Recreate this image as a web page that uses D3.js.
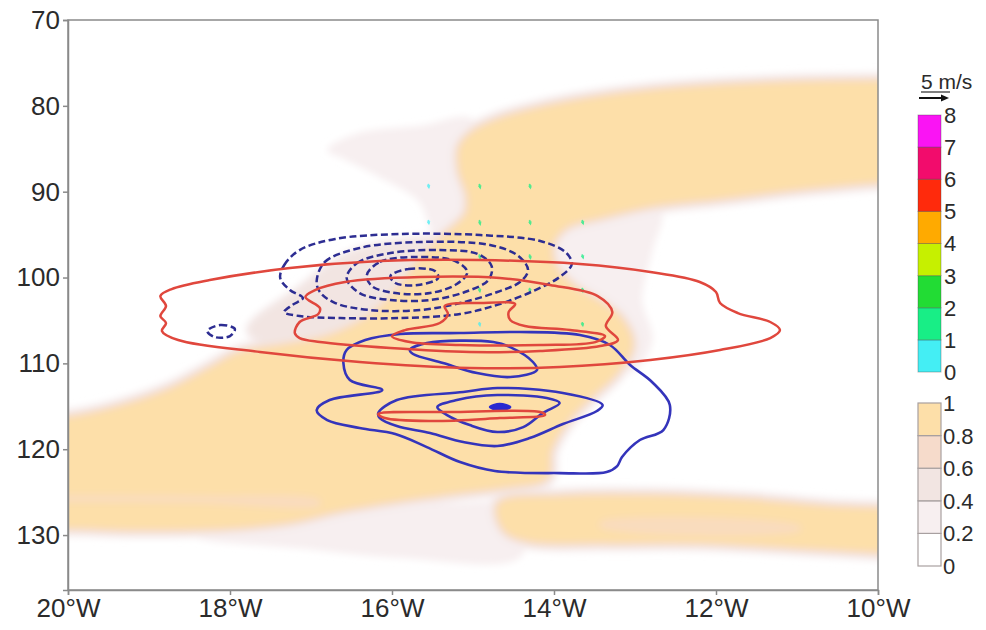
<!DOCTYPE html>
<html>
<head>
<meta charset="utf-8">
<script src="https://cdn.jsdelivr.net/npm/d3@7"></script>
<style>
  html, body { margin: 0; padding: 0; background: #fff; }
  svg { display: block; font-family: "Liberation Sans", Arial, Helvetica, sans-serif; }
</style>
</head>
<body>
<svg id="chart" width="986" height="630"></svg>
<script>
// ---------- axes ----------
const lonDomain = [-20, -10];
const levelDomain = [70, 136.4];
const lonTicks = [-20, -18, -16, -14, -12, -10];
const levelTicks = [70, 80, 90, 100, 110, 120, 130];

// ---------- colour classes ----------
const speedBreaks = [0, 1, 2, 3, 4, 5, 6, 7, 8];
const speedColors = ["#44eef4", "#18ee86", "#22dc34", "#c6f000", "#ffaa00", "#ff2a0c", "#f20c6c", "#fa14f4"];
const fracBreaks = [0, 0.2, 0.4, 0.6, 0.8, 1];
const fracLabels = ["0", "0.2", "0.4", "0.6", "0.8", "1"];
const fracColors = ["#ffffff", "#f7eff0", "#f2e5e2", "#f6dbcb", "#fddfa9"];

// ---------- fraction field: outlines (lon, level) and their values ----------
const bandMain = [[-9.3,77.3],[-10.0,77.4],[-10.96,77.5],[-11.95,77.9],[-12.81,78.5],[-13.56,79.4],[-14.17,80.5],[-14.67,81.8],[-14.98,83.2],[-15.14,84.91],[-15.14,87.48],[-15.04,90.39],[-15.06,92.72],[-15.35,95.40],[-15.65,98.19],[-15.90,101.46],[-16.27,104.72],[-16.77,107.05],[-17.38,108.21],[-17.88,109.03],[-18.25,110.9],[-18.74,113.3],[-19.36,115.3],[-20.0,116.6],[-20.7,116.9],[-20.7,128.9],[-20.0,128.9],[-18.99,129.1],[-18.00,128.9],[-17.26,128.2],[-16.64,126.85],[-15.90,125.69],[-15.16,124.76],[-14.54,124.06],[-14.11,123.13],[-14.07,120.10],[-13.86,116.60],[-13.56,113.69],[-13.25,111.01],[-13.06,107.86],[-13.19,104.95],[-13.43,103.20],[-13.74,101.46],[-13.99,99.13],[-14.05,96.21],[-13.86,93.88],[-13.43,92.72],[-12.81,91.4],[-11.95,90.5],[-10.96,89.4],[-10.0,88.6],[-9.3,88.4]];
const bandSouth = [[-14.67,126.5],[-13.93,125.7],[-12.81,125.6],[-11.58,126.1],[-10.59,126.9],[-10.0,127.1],[-9.3,127.2],[-9.3,132.1],[-10.0,131.8],[-10.96,131.3],[-12.20,130.7],[-13.43,130.7],[-14.30,130.5],[-14.60,129.3]];
const cloudNorth = [[-16.77,85.15],[-16.40,83.40],[-15.65,82.58],[-15.04,81.65],[-14.91,83.98],[-15.04,88.64],[-15.04,94.46],[-15.41,95.63],[-15.65,90.97],[-16.15,88.06],[-16.64,85.73]];
const lobeEast = [[-13.93,90.97],[-13.19,90.39],[-12.70,92.14],[-12.81,96.80],[-12.94,102.62],[-12.81,107.28],[-13.06,110.78],[-13.43,106.12],[-13.93,97.96]];
const coreCentral = [[-17.14,101.46],[-16.52,97.38],[-15.65,95.63],[-15.35,95.63],[-15.65,101.46],[-16.52,106.70],[-17.38,107.86],[-17.75,106.12]];
const hazeSouth = [[-18.4,130.2],[-17.75,129.2],[-16.52,127.6],[-15.28,126.5],[-14.42,127.0],[-14.42,132.4],[-15.90,132.5],[-17.14,131.4]];
const fracRings = [bandMain, bandSouth, cloudNorth, lobeEast, coreCentral, hazeSouth];
const fracValues = [0.95, 0.9, 0.35, 0.35, 0.55, 0.3];

// weaker strips inside the bands
const stripWest = [[-20.7,125.3],[-20.0,125.3],[-18.37,125.4],[-16.89,125.9],[-16.89,126.6],[-18.37,126.3],[-20.0,126.2],[-20.7,126.2]];
const stripSouth = [[-13.43,128.48],[-10.96,128.95],[-10.96,129.5],[-13.43,129.1]];
const dipRings = [stripWest, stripSouth];
const dipValues = [0.7, 0.7];

// ---------- contours (lon, level) ----------
const redOuter = [[-18.86,102.16],[-18.79,103.32],[-18.86,104.49],[-18.79,105.30],[-18.84,106.23],[-18.64,107.28],[-17.63,108.68],[-16.40,109.84],[-15.04,110.54],[-13.93,110.43],[-12.81,109.61],[-11.95,108.45],[-11.33,107.05],[-11.21,106.12],[-11.33,105.18],[-11.73,104.14],[-11.95,102.97],[-12.00,101.69],[-12.20,100.52],[-12.81,99.36],[-13.68,98.43],[-14.91,97.96],[-16.15,98.08],[-17.26,98.90],[-18.25,100.29],[-18.72,101.34]];
const redMiddle = [[-17.20,106.47],[-17.14,105.18],[-16.91,104.25],[-16.89,103.55],[-17.07,102.27],[-16.95,101.46],[-16.58,100.52],[-15.65,99.94],[-14.67,100.06],[-14.05,100.87],[-13.46,102.16],[-13.28,104.02],[-13.36,105.65],[-13.21,107.28],[-13.43,107.98],[-14.17,108.55],[-15.04,108.68],[-16.02,108.21],[-16.89,107.51],[-17.14,107.05]];
const redInner = [[-15.35,103.32],[-14.91,102.97],[-14.48,103.09],[-14.56,104.02],[-14.54,104.95],[-14.36,105.65],[-13.80,106.12],[-13.37,106.82],[-13.49,107.52],[-14.17,107.86],[-15.16,107.86],[-15.78,107.52],[-16.00,106.82],[-15.84,106.12],[-15.41,105.30],[-15.31,104.25]];
const redSliver = [[-16.17,115.90],[-15.28,115.67],[-14.17,115.67],[-14.11,116.02],[-14.67,116.37],[-15.53,116.72],[-16.09,116.37]];
const redContours = [redOuter, redMiddle, redInner, redSliver];

const blueOuter = [[-16.56,108.45],[-16.60,109.96],[-16.52,111.94],[-16.12,113.11],[-16.77,114.27],[-16.93,115.44],[-16.80,116.60],[-16.40,117.53],[-15.96,118.23],[-15.57,119.75],[-15.16,121.50],[-14.73,122.54],[-13.93,122.78],[-13.35,122.66],[-13.22,121.96],[-13.16,120.91],[-12.94,118.93],[-12.65,117.77],[-12.57,114.85],[-12.79,112.17],[-13.06,110.19],[-13.31,107.86],[-13.68,106.70],[-14.42,106.35],[-15.16,106.47],[-15.90,106.58],[-16.33,107.28]];
const blueUpper = [[-15.78,108.45],[-15.57,107.63],[-14.75,107.51],[-14.54,108.10],[-14.26,109.84],[-14.21,110.78],[-14.54,111.59],[-14.95,111.13],[-15.37,109.96],[-15.74,108.91]];
const blueLower = [[-16.17,115.79],[-15.94,114.27],[-15.12,113.34],[-14.70,112.87],[-13.89,113.46],[-13.40,114.85],[-13.47,115.55],[-13.89,117.07],[-14.30,118.70],[-14.70,119.63],[-15.12,119.17],[-15.53,118.12],[-15.94,117.30],[-16.15,116.37]];
const blueInner = [[-15.44,115.09],[-15.20,114.27],[-14.70,113.69],[-14.09,114.04],[-13.93,114.62],[-14.14,115.79],[-14.38,117.42],[-14.70,118.00],[-15.04,117.19],[-15.32,116.02]];
const blueContours = [blueOuter, blueUpper, blueLower, blueInner];
const blueCore = [[-14.79,115.09],[-14.67,114.74],[-14.54,115.09],[-14.67,115.44]];

const dashOuter = [[-17.38,100.06],[-17.33,98.54],[-17.14,96.80],[-16.70,95.51],[-15.90,94.93],[-14.91,95.05],[-14.17,95.75],[-13.86,97.03],[-13.78,98.43],[-13.93,99.94],[-14.23,101.46],[-14.67,103.09],[-15.16,104.25],[-15.90,104.72],[-16.64,104.72],[-17.14,104.49],[-17.33,104.02],[-17.23,103.20],[-17.10,102.39],[-17.26,101.46]];
const dashSecond = [[-16.93,100.41],[-16.83,98.19],[-16.40,96.56],[-15.65,95.86],[-14.79,96.21],[-14.44,97.49],[-14.32,99.13],[-14.42,100.52],[-14.70,101.69],[-15.16,102.97],[-15.65,103.79],[-16.27,103.79],[-16.70,102.97],[-16.89,101.69]];
const dashThird = [[-16.56,100.06],[-16.43,98.31],[-16.02,97.15],[-15.41,96.80],[-14.94,97.26],[-14.77,98.66],[-14.81,100.29],[-15.10,101.69],[-15.53,102.62],[-16.02,102.62],[-16.40,101.81]];
const dashFourth = [[-16.31,99.71],[-16.15,98.19],[-15.72,97.61],[-15.22,98.08],[-15.07,99.36],[-15.20,100.76],[-15.53,101.81],[-15.96,101.81],[-16.25,100.99]];
const dashInner = [[-16.02,99.83],[-15.80,99.01],[-15.47,99.24],[-15.43,100.06],[-15.68,100.87],[-15.96,100.64]];
const dashWest = [[-18.28,106.23],[-18.12,105.53],[-17.94,106.00],[-18.00,106.82],[-18.19,106.93]];
const dashedContours = [dashOuter, dashSecond, dashThird, dashFourth, dashInner, dashWest];

// ---------- wind vectors ----------
const vecLon   = [-15.55, -15.55, -14.92, -14.92, -14.92, -14.92, -14.92, -14.30, -14.30, -14.30, -14.30, -13.65, -13.65, -13.65, -13.65];
const vecLev   = [89.2, 93.4, 89.2, 93.4, 97.4, 101.3, 105.3, 89.2, 93.4, 97.4, 101.3, 93.4, 97.4, 101.3, 105.3];
const vecU     = [0.05, 0.05, 0.10, 0.10, 0.10, 0.05, 0.05, 0.10, 0.10, 0.10, 0.05, 0.10, 0.10, 0.05, 0.05];
const vecW     = [0.35, 0.35, 0.40, 0.45, 0.40, 0.35, 0.30, 0.40, 0.40, 0.40, 0.35, 0.35, 0.35, 0.35, 0.30];
const vecSpeed = [0.7, 0.8, 1.2, 1.4, 1.3, 1.2, 0.9, 1.2, 1.1, 1.2, 1.1, 1.1, 1.2, 1.1, 1.0];
const refSpeed = 5;

// ---------- layout ----------
const plot = { left: 68, right: 878, top: 20, bottom: 590 };
const svg = d3.select("#chart");
const x = d3.scaleLinear().domain(lonDomain).range([plot.left, plot.right]);
const y = d3.scaleLinear().domain(levelDomain).range([plot.top, plot.bottom]);
const arrowScale = 6; // px per m/s

const defs = svg.append("defs");
defs.append("clipPath").attr("id", "plotClip")
  .append("rect").attr("x", plot.left).attr("y", plot.top)
  .attr("width", plot.right - plot.left).attr("height", plot.bottom - plot.top);
defs.append("filter").attr("id", "soften")
  .attr("x", "-10%").attr("y", "-10%").attr("width", "120%").attr("height", "120%")
  .append("feGaussianBlur").attr("stdDeviation", 3.5);

const ringPath = d3.line().x(d => x(d[0])).y(d => y(d[1]))
  .curve(d3.curveCatmullRomClosed.alpha(0.5));

const plotG = svg.append("g").attr("clip-path", "url(#plotClip)");

// shaded fraction field, one pass per class threshold
const shade = plotG.append("g").attr("filter", "url(#soften)");
const spreadPerStep = 3;
[0.2, 0.4, 0.6, 0.8].forEach((t, i) => {
  fracRings.forEach((ring, j) => {
    const v = fracValues[j];
    if (v < t) return;
    shade.append("path")
      .attr("d", ringPath(ring))
      .attr("fill", fracColors[i + 1])
      .attr("stroke", fracColors[i + 1])
      .attr("stroke-width", 2 * spreadPerStep * (v - t) / 0.2)
      .attr("stroke-linejoin", "round");
  });
});
dipRings.forEach((ring, j) => {
  const cls = Math.min(fracColors.length - 1, Math.floor(dipValues[j] / 0.2));
  shade.append("path").attr("d", ringPath(ring)).attr("fill", fracColors[cls]).attr("opacity", 0.6);
});

// wind vectors
const speedColor = d3.scaleThreshold().domain(speedBreaks.slice(1, -1)).range(speedColors);
const vecG = plotG.append("g").attr("opacity", 0.75);
vecLon.forEach((lon, i) => {
  const x0 = x(lon), y0 = y(vecLev[i]);
  const dx = vecU[i] * arrowScale, dy = vecW[i] * arrowScale;
  const x1 = x0 + dx, y1 = y0 + dy;
  const c = speedColor(vecSpeed[i]);
  vecG.append("line").attr("x1", x0).attr("y1", y0).attr("x2", x1).attr("y2", y1)
    .attr("stroke", c).attr("stroke-width", 2).attr("stroke-linecap", "round");
  const ang = Math.atan2(dy, dx), h = 2.4;
  vecG.append("path")
    .attr("d", `M${x1 + Math.cos(ang) * h},${y1 + Math.sin(ang) * h}` +
               `L${x1 + Math.cos(ang + 2.3) * h},${y1 + Math.sin(ang + 2.3) * h}` +
               `L${x1 + Math.cos(ang - 2.3) * h},${y1 + Math.sin(ang - 2.3) * h}Z`)
    .attr("fill", c);
});

// contours
const lineG = plotG.append("g").attr("fill", "none").attr("stroke-linejoin", "round");
blueContours.forEach(c => lineG.append("path").attr("d", ringPath(c))
  .attr("stroke", "#3434bb").attr("stroke-width", 2.6));
lineG.append("path").attr("d", ringPath(blueCore))
  .attr("fill", "#2a2ad0").attr("stroke", "#2a2ad0").attr("stroke-width", 2.5);
dashedContours.forEach(c => lineG.append("path").attr("d", ringPath(c))
  .attr("stroke", "#2d2d92").attr("stroke-width", 2.5).attr("stroke-dasharray", "7 3.5"));
redContours.forEach(c => lineG.append("path").attr("d", ringPath(c))
  .attr("stroke", "#e0473d").attr("stroke-width", 2.5));

// frame and axes
svg.append("rect").attr("x", plot.left).attr("y", plot.top)
  .attr("width", plot.right - plot.left).attr("height", plot.bottom - plot.top)
  .attr("fill", "none").attr("stroke", "#8a8a8a").attr("stroke-width", 1.5);

const yAxis = svg.append("g").attr("transform", `translate(${plot.left},0)`)
  .call(d3.axisLeft(y).tickValues(levelTicks).tickSize(5).tickPadding(3).tickFormat(d3.format("d")));
const xAxis = svg.append("g").attr("transform", `translate(0,${plot.bottom})`)
  .call(d3.axisBottom(x).tickValues(lonTicks).tickSize(5).tickPadding(4)
    .tickFormat(d => Math.abs(d) + "°W"));
[yAxis, xAxis].forEach(a => {
  a.select(".domain").attr("stroke", "#8a8a8a").attr("stroke-width", 1.5);
  a.selectAll(".tick line").attr("stroke", "#8a8a8a").attr("stroke-width", 1.5);
  a.selectAll(".tick text").attr("fill", "#2b2b2b").style("font-size", "26px")
    .style("font-family", "'Liberation Sans', Arial, sans-serif");
});

// ---------- legends ----------
const barX = 918, barW = 23;
const sy = d3.scaleLinear().domain([0, 8]).range([372, 115]);
const legS = svg.append("g");
speedColors.forEach((c, i) => {
  legS.append("rect").attr("x", barX).attr("y", sy(speedBreaks[i + 1]))
    .attr("width", barW).attr("height", sy(speedBreaks[i]) - sy(speedBreaks[i + 1]))
    .attr("fill", c).attr("stroke", "rgba(60,60,60,0.35)").attr("stroke-width", 1);
});
speedBreaks.forEach(b => legS.append("text").attr("x", barX + barW + 3).attr("y", sy(b))
  .attr("dy", "0.36em").attr("fill", "#2b2b2b").style("font-size", "22px").text(b));

// reference arrow
const refLen = refSpeed * arrowScale;
legS.append("text").attr("x", 921).attr("y", 89).attr("fill", "#2b2b2b")
  .style("font-size", "21px").text(refSpeed + " m/s");
legS.append("line").attr("x1", 921).attr("x2", 950).attr("y1", 92).attr("y2", 92)
  .attr("stroke", "#2b2b2b").attr("stroke-width", 1.2);
legS.append("line").attr("x1", 919).attr("x2", 919 + refLen - 5).attr("y1", 98).attr("y2", 98)
  .attr("stroke", "#111").attr("stroke-width", 2);
legS.append("path")
  .attr("d", `M${919 + refLen},98 L${919 + refLen - 8},94.5 L${919 + refLen - 8},101.5 Z`)
  .attr("fill", "#111");

const fy = d3.scaleLinear().domain([0, 1]).range([566, 403]);
const legF = svg.append("g");
fracColors.forEach((c, i) => {
  legF.append("rect").attr("x", barX).attr("y", fy(fracBreaks[i + 1]))
    .attr("width", barW).attr("height", fy(fracBreaks[i]) - fy(fracBreaks[i + 1]))
    .attr("fill", c).attr("stroke", "#a8a0a0").attr("stroke-width", 1.2);
});
fracBreaks.forEach((b, i) => legF.append("text").attr("x", barX + barW + 2).attr("y", fy(b))
  .attr("dy", "0.36em").attr("fill", "#2b2b2b").style("font-size", "22px").text(fracLabels[i]));
</script>
</body>
</html>
